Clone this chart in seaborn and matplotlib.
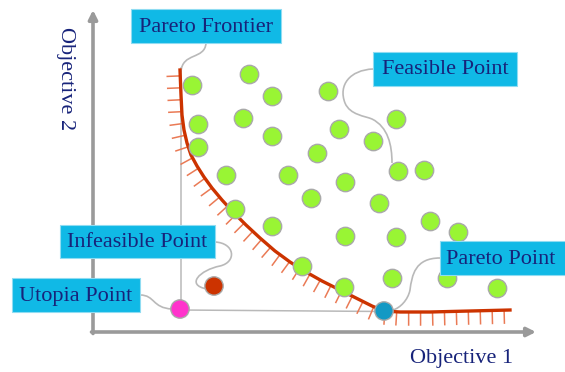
import matplotlib
matplotlib.use("Agg")
import matplotlib.pyplot as plt
import matplotlib.patheffects as pe
from matplotlib.path import Path
from matplotlib.patches import PathPatch, Rectangle
import seaborn as sns

# feasible points (x, y in picture units, y grows downward)
feasible_x = [192, 249, 272, 328, 198, 243, 272, 339, 396, 198, 317, 373, 226, 288, 345,
              398, 424, 311, 379, 235, 272, 430, 458, 345, 396, 302, 344, 392, 447, 497]
feasible_y = [85, 74, 96, 91, 124, 118, 136, 129, 119, 147, 153, 141, 175, 175, 182,
              171, 170, 198, 203, 209, 226, 221, 232, 236, 237, 266, 287, 278, 278, 288]

# pareto frontier curve
frontier_x = [180, 181, 182, 184, 187, 191, 197, 204, 212, 222, 233, 246, 260, 275, 290,
              306, 322, 340, 358, 372, 384, 400, 430, 470, 510]
frontier_y = [70, 95, 115, 130, 143, 155, 166, 177, 188, 200, 212, 225, 238, 251, 262,
              272, 281, 290, 299, 306, 311, 312, 312, 311, 310]

# special points
special_names = ["Utopia", "Infeasible", "Pareto"]
special_x = [180, 214, 384]
special_y = [309, 286, 311]
special_colors = {"Utopia": "#ff33cc", "Infeasible": "#cc3300", "Pareto": "#1499c4"}

# callout labels: text, box (left, top, right, bottom)
label_texts = ["Pareto Frontier", "Feasible Point", "Infeasible Point", "Utopia Point", "Pareto Point"]
label_boxes = [(131, 9, 281, 43), (373, 52, 517, 86), (60, 225, 215, 258),
               (12, 278, 140, 312), (440, 241, 568, 275)]

# connector curves (cubic bezier control points)
connectors = [
    [(206, 43), (205, 60), (182, 52), (181, 72)],
    [(373, 69), (350, 70), (338, 85), (345, 103), (350, 115), (365, 116), (372, 119),
     (388, 127), (392, 145), (392, 163)],
    [(215, 242), (235, 243), (237, 262), (220, 266), (200, 270), (185, 285), (207, 289)],
    [(140, 295), (155, 295), (152, 308), (172, 309)],
    [(440, 258), (415, 258), (412, 275), (410, 290), (408, 300), (400, 308), (393, 310)],
]

navy = "#17237a"
cyan = "#10b9e6"
gray_line = "#b9b9b9"

fig = plt.figure(figsize=(5.65, 3.72), dpi=100)
ax = fig.add_axes([0, 0, 1, 1])
ax.set_xlim(0, 565)
ax.set_ylim(372, 0)
ax.axis("off")

# axes arrows
arrow = dict(arrowstyle="-|>", color="#9a9a9a", lw=2.6, mutation_scale=13, shrinkA=0, shrinkB=0)
ax.annotate("", xy=(93, 10), xytext=(93, 333.5), arrowprops=arrow)
ax.annotate("", xy=(536, 332), xytext=(91.5, 332), arrowprops=arrow)

ax.text(65, 79, "Objective 2", rotation=-90, ha="center", va="center",
        color=navy, fontsize=16, family="Liberation Serif")
ax.text(462, 359, "Objective 1", ha="center", va="center",
        color=navy, fontsize=16, family="Liberation Serif")

# guide lines from the utopia point
ax.plot([181, 181], [68, 309], color=gray_line, lw=1.1, zorder=1)
ax.plot([180, 384], [310, 311.5], color=gray_line, lw=1.1, zorder=1)

# connectors
for pts in connectors:
    codes = [Path.MOVETO] + [Path.CURVE4] * (len(pts) - 1)
    ax.add_patch(PathPatch(Path(pts, codes), fill=False, edgecolor=gray_line, lw=1.2, zorder=1))

# pareto frontier with hatching
sns.lineplot(x=frontier_x, y=frontier_y, sort=False, estimator=None, ax=ax,
             color="#cc3300", lw=2.4, zorder=3,
             path_effects=[pe.withTickedStroke(angle=-90, spacing=8.5, length=1.1,
                                               foreground="#ea7a55", linewidth=1.1)])

sns.scatterplot(x=feasible_x, y=feasible_y, ax=ax, color="#99f534", s=175,
                edgecolor="#a9a9a9", linewidth=1.0, zorder=4)
sns.scatterplot(x=special_x, y=special_y, hue=special_names, palette=special_colors,
                ax=ax, s=175, edgecolor="#a9a9a9", linewidth=1.0, zorder=5, legend=False)

for txt, (l, t, r, b) in zip(label_texts, label_boxes):
    ax.add_patch(Rectangle((l, t), r - l, b - t, facecolor=cyan, edgecolor="#8fdcf2",
                           lw=0.8, zorder=6))
    ax.text((l + r) / 2 if r < 565 else l + 61, (t + b) / 2 + 1, txt, ha="center", va="center",
            color=navy, fontsize=16, family="Liberation Serif", zorder=7)

fig.savefig("out.png", dpi=100)
